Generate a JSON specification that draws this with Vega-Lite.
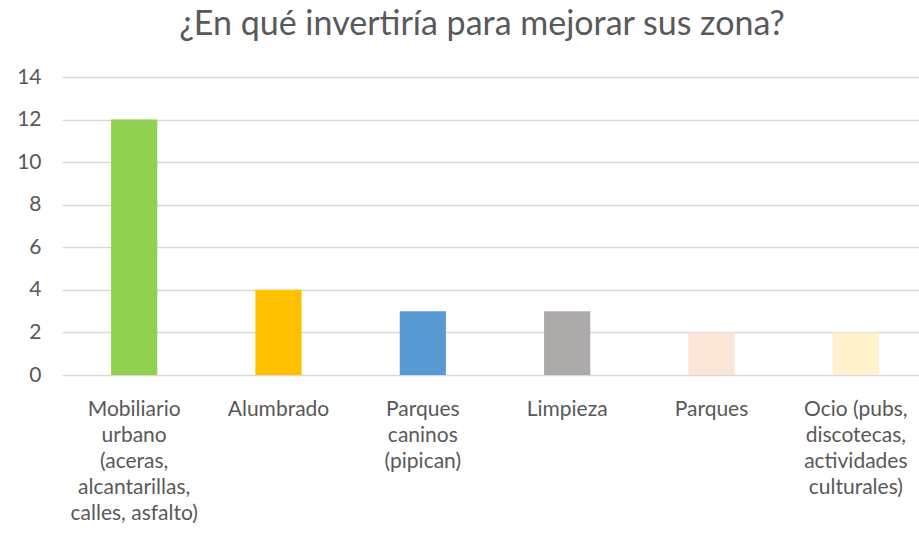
{
  "$schema": "https://vega.github.io/schema/vega-lite/v6.json",
  "width": 866,
  "height": 298,
  "autosize": {"type": "none"},
  "padding": {"left": 62, "top": 77, "right": 0, "bottom": 160},
  "background": "white",
  "title": {
    "text": "¿En qué invertiría para mejorar sus zona?",
    "font": "Lato",
    "fontSize": 34,
    "fontWeight": "normal",
    "color": "#595959",
    "anchor": "middle",
    "offset": 24,
    "dx": -13
  },
  "data": {
    "values": [
      {"categoria": "Mobiliario|urbano|(aceras,|alcantarillas,|calles, asfalto)", "valor": 12, "color": "#92D050"},
      {"categoria": "Alumbrado", "valor": 4, "color": "#FFC000"},
      {"categoria": "Parques|caninos|(pipican)", "valor": 3, "color": "#5B9BD5"},
      {"categoria": "Limpieza", "valor": 3, "color": "#AEAAAA"},
      {"categoria": "Parques", "valor": 2, "color": "#FBE5D6"},
      {"categoria": "Ocio (pubs,|discotecas,|actividades|culturales)", "valor": 2, "color": "#FFF2CC"}
    ]
  },
  "mark": {"type": "bar"},
  "encoding": {
    "x": {
      "field": "categoria",
      "type": "nominal",
      "sort": null,
      "scale": {"paddingInner": 0.68, "paddingOuter": 0.34},
      "axis": {
        "title": null,
        "labelAngle": 0,
        "labelExpr": "split(datum.value, '|')",
        "labelFont": "Lato",
        "labelFontSize": 21,
        "labelColor": "#595959",
        "labelLineHeight": 26,
        "labelPadding": 23,
        "labelLimit": 200,
        "domain": false,
        "ticks": false
      }
    },
    "y": {
      "field": "valor",
      "type": "quantitative",
      "scale": {"domain": [0, 14]},
      "axis": {
        "title": null,
        "values": [0, 2, 4, 6, 8, 10, 12, 14],
        "labelFont": "Lato",
        "labelFontSize": 21,
        "labelColor": "#595959",
        "labelPadding": 21,
        "domain": false,
        "ticks": false,
        "gridColor": "#D9D9D9",
        "gridWidth": 1.3
      }
    },
    "color": {"field": "color", "type": "nominal", "scale": null, "legend": null}
  },
  "config": {"view": {"stroke": null}}
}
